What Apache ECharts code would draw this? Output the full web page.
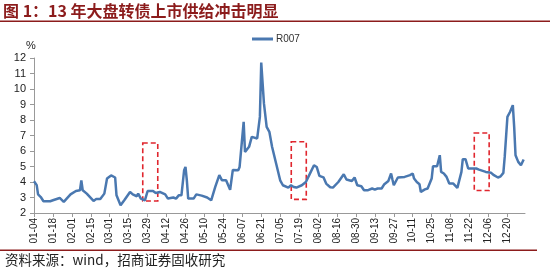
<!DOCTYPE html>
<html>
<head>
<meta charset="utf-8">
<script src="https://cdn.jsdelivr.net/npm/echarts@6/dist/echarts.min.js"></script>
<style>html,body{margin:0;padding:0;background:#fff}#c{width:550px;height:269px}</style>
</head>
<body>
<div id="c"></div>
<script>
// day offsets from 2013-01-04
const dayOffsets = [0,2,3,5,7,12,14,19,22,27,31,34,35,36,39,44,46,49,52,54,57,60,61,64,67,71,73,76,77,79,82,84,88,90,93,97,99,103,105,107,109,111,112,113,114,118,120,124,128,131,134,137,139,142,145,147,151,152,155,156,159,161,165,167,168,170,172,174,176,179,182,184,188,190,192,194,198,201,204,207,209,211,214,216,219,221,225,226,229,231,235,237,239,242,244,247,250,252,254,257,259,262,264,265,266,269,274,278,280,281,283,285,286,289,291,294,295,298,300,301,303,305,307,310,311,313,316,317,319,321,324,327,329,330,334,338,340,343,345,347,348,350,352,354,355,356,358,360,361,362];
const r007 = [4.05,3.8,3.2,3.03,2.76,2.76,2.82,2.97,2.72,3.2,3.42,3.47,4.1,3.47,3.25,2.78,2.9,2.9,3.25,4.22,4.42,4.29,3.14,2.5,2.86,3.36,3.2,3.08,3.25,2.93,2.82,3.42,3.42,3.29,3.36,3.2,2.93,3.0,2.93,3.14,3.14,4.76,4.97,4.1,2.93,2.93,3.2,3.12,3.0,2.82,3.68,4.44,4.11,4.11,3.5,4.78,4.76,4.97,7.88,5.94,6.27,6.91,6.81,8.2,11.7,9.07,7.56,7.24,6.27,5.19,4.11,3.79,3.64,3.79,3.68,3.64,3.79,4.0,4.54,5.08,4.97,4.4,4.3,3.9,3.66,3.64,4.0,3.94,4.5,4.16,4.07,4.29,3.79,3.73,3.47,3.47,3.58,3.51,3.58,3.58,3.86,4.07,4.55,4.16,3.79,4.29,4.33,4.44,4.55,4.22,4.0,3.86,3.36,3.52,3.58,4.22,5.02,5.02,5.73,4.65,4.55,4.33,3.9,3.9,3.79,3.62,4.65,5.47,5.47,4.87,4.87,4.87,4.8,4.72,4.65,4.59,4.44,4.29,4.37,4.59,5.62,8.2,8.53,8.96,7.56,5.73,5.3,5.08,4.97,5.45];
// highlighted boxes: [startDay, endDay, low, high]
const boxes = [[80.4,91.5,2.77,6.52],[190.2,201.3,2.88,6.6],[325.5,336.5,3.45,7.16]];
const yTicks = {min:2, max:12, step:1};

const seriesData = dayOffsets.map((d,i)=>[d, r007[i]]);
function fmt(v){
  const dt = new Date(Date.UTC(2013,0,4+Math.round(v)));
  const m = String(dt.getUTCMonth()+1).padStart(2,'0');
  const d = String(dt.getUTCDate()).padStart(2,'0');
  return m+'-'+d;
}
const chart = echarts.init(document.getElementById('c'));
const dark = '#8c1c1c';
chart.setOption({
  animation:false,
  textStyle:{fontFamily:'Liberation Sans, Arial, sans-serif'},
  graphic:[
    {type:'text',left:3,top:3,style:{text:'图 1：13 年大盘转债上市供给冲击明显',fill:dark,font:'bold 16px "Noto Sans CJK SC"'}},
    {type:'rect',shape:{x:0,y:20.5,width:550,height:1.5},style:{fill:dark}},
    {type:'rect',shape:{x:0,y:249.5,width:537,height:1.5},style:{fill:dark}},
    {type:'text',left:5,top:253,style:{text:'资料来源：wind，招商证券固收研究',fill:'#222',font:'13.5px "Noto Sans CJK SC"'}}
  ],
  legend:{left:247,top:29,icon:'rect',itemWidth:21,itemHeight:3,itemGap:4,
    textStyle:{fontSize:10,color:'#333',padding:[0,0,0,-2]},data:['R007']},
  grid:{left:34,right:25,top:58,bottom:56,containLabel:false},
  xAxis:{type:'value',min:0,max:363,interval:14,
    axisLine:{lineStyle:{color:'#999',width:1}},
    axisTick:{show:true,length:4,lineStyle:{color:'#999'}},
    splitLine:{show:false},
    axisLabel:{rotate:90,fontSize:10,color:'#222',margin:5,formatter:fmt,showMaxLabel:false}},
  yAxis:{type:'value',min:yTicks.min,max:yTicks.max,interval:yTicks.step,name:'%',nameGap:7,
    nameTextStyle:{fontSize:11,color:'#222',padding:[0,6,0,0]},
    axisLine:{show:true,lineStyle:{color:'#999',width:1}},
    axisTick:{show:true,length:4,lineStyle:{color:'#999'}},
    splitLine:{show:false},
    axisLabel:{fontSize:11,color:'#222',margin:8}},
  series:[{name:'R007',type:'line',data:seriesData,showSymbol:false,symbol:'none',
    lineStyle:{color:'#4a78b0',width:2.5},itemStyle:{color:'#4a78b0'},
    markArea:{silent:true,itemStyle:{color:'rgba(0,0,0,0)',borderColor:'#e0262e',borderWidth:1.6,borderType:[5,3]},
      data:boxes.map(b=>[{coord:[b[0],b[3]]},{coord:[b[1],b[2]]}])}
  }]
});
</script>
</body>
</html>
